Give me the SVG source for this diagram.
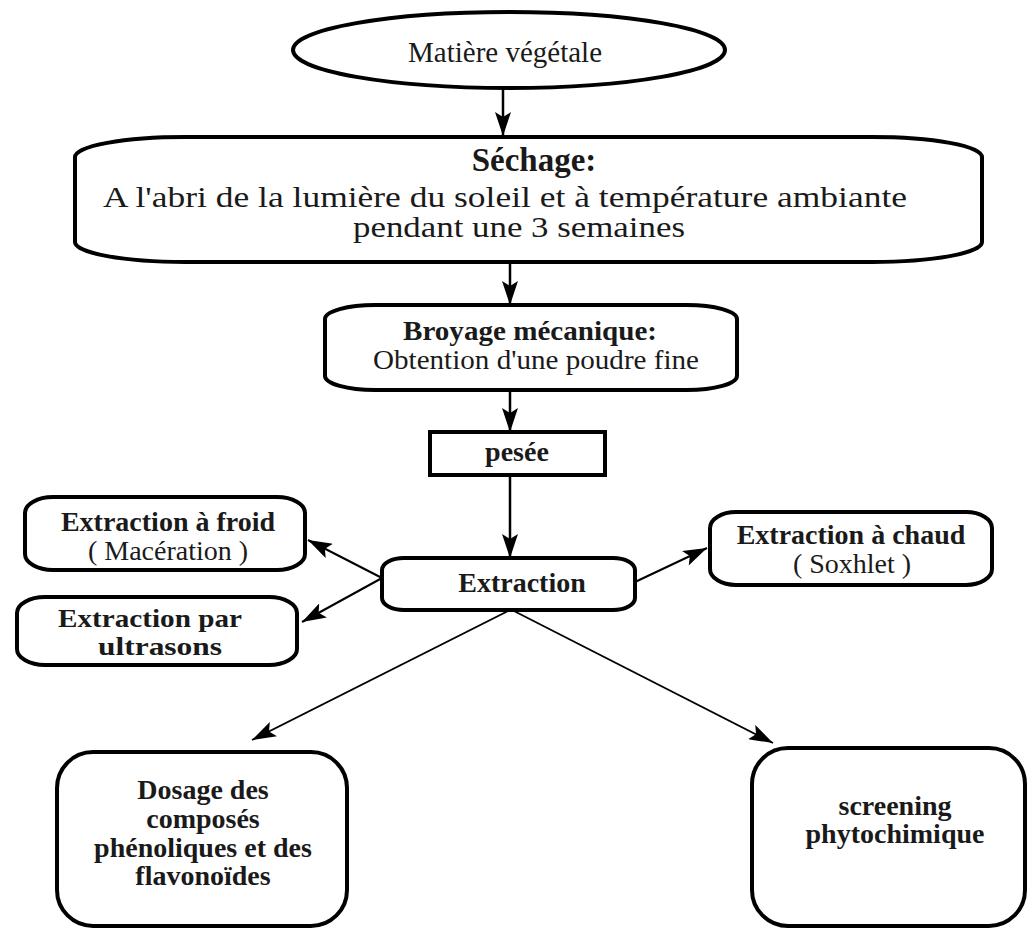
<svg xmlns="http://www.w3.org/2000/svg" width="1030" height="929" viewBox="0 0 1030 929">
<style>
.box{fill:#fff;stroke:#000;stroke-width:4}
.t{font-family:"Liberation Serif","Times New Roman",serif;fill:#1a1a1a;text-anchor:middle}
.b{font-weight:bold}
.c{stroke:#000;fill:none}
</style>
<defs>
<marker id="ah" markerUnits="userSpaceOnUse" markerWidth="26" markerHeight="16" refX="24" refY="8" orient="auto">
<path d="M0,0 L24,8 L0,16 L5,8 Z" fill="#000"/>
</marker>
</defs>
<rect width="1030" height="929" fill="#fff"/>
<g id="connectors">
<line class="c" x1="503" y1="88" x2="503" y2="136" stroke-width="2.5" marker-end="url(#ah)"/>
<line class="c" x1="510" y1="262" x2="510" y2="305" stroke-width="2.5" marker-end="url(#ah)"/>
<line class="c" x1="510" y1="390" x2="510" y2="432" stroke-width="2.5" marker-end="url(#ah)"/>
<line class="c" x1="510" y1="475" x2="510" y2="558" stroke-width="2.5" marker-end="url(#ah)"/>
<line class="c" x1="382" y1="578" x2="308" y2="540" stroke-width="2" marker-end="url(#ah)"/>
<line class="c" x1="382" y1="578" x2="302" y2="622" stroke-width="2" marker-end="url(#ah)"/>
<line class="c" x1="635" y1="582" x2="707" y2="548" stroke-width="2" marker-end="url(#ah)"/>
<line class="c" x1="510" y1="610" x2="252" y2="740" stroke-width="1.8" marker-end="url(#ah)"/>
<line class="c" x1="512" y1="610" x2="773" y2="743" stroke-width="1.8" marker-end="url(#ah)"/>
</g>
<g id="matiere">
<ellipse class="box" cx="509" cy="50" rx="216" ry="38"/>
<text class="t" x="505" y="62" font-size="29">Matière végétale</text>
</g>
<g id="sechage">
<rect class="box" x="75" y="137" width="907" height="125" rx="110" ry="20"/>
<text class="t b" x="534" y="171" font-size="33">Séchage:</text>
<text class="t" x="505" y="207" font-size="29" textLength="804" lengthAdjust="spacingAndGlyphs">A l'abri de la lumière du soleil et à température ambiante</text>
<text class="t" x="519" y="237" font-size="29" textLength="332" lengthAdjust="spacingAndGlyphs">pendant une 3 semaines</text>
</g>
<g id="broyage">
<rect class="box" x="325" y="305" width="412" height="85" rx="50" ry="14"/>
<text class="t b" x="530" y="340" font-size="27" textLength="254" lengthAdjust="spacingAndGlyphs">Broyage mécanique:</text>
<text class="t" x="536" y="369" font-size="27" textLength="326" lengthAdjust="spacingAndGlyphs">Obtention d'une poudre fine</text>
</g>
<g id="pesee">
<rect class="box" x="430" y="432" width="175" height="43"/>
<text class="t b" x="517" y="461" font-size="28">pesée</text>
</g>
<g id="extraction">
<rect class="box" x="382" y="558" width="253" height="52" rx="22" ry="12"/>
<text class="t b" x="522" y="592" font-size="28">Extraction</text>
</g>
<g id="froid">
<rect class="box" x="25" y="497" width="280" height="73" rx="28" ry="16"/>
<text class="t b" x="168" y="531" font-size="28">Extraction à froid</text>
<text class="t" x="168" y="560" font-size="28">( Macération )</text>
</g>
<g id="ultrasons">
<rect class="box" x="17" y="597" width="280" height="68" rx="28" ry="16"/>
<text class="t b" x="150" y="627" font-size="26" textLength="184" lengthAdjust="spacingAndGlyphs">Extraction par</text>
<text class="t b" x="160" y="655" font-size="26" textLength="124" lengthAdjust="spacingAndGlyphs">ultrasons</text>
</g>
<g id="chaud">
<rect class="box" x="710" y="512" width="282" height="73" rx="26" ry="16"/>
<text class="t b" x="851" y="544" font-size="28">Extraction à chaud</text>
<text class="t" x="852" y="573" font-size="28">( Soxhlet )</text>
</g>
<g id="dosage">
<rect class="box" x="57" y="752" width="290" height="174" rx="36" ry="36"/>
<text class="t b" x="203" y="799" font-size="28">Dosage des</text>
<text class="t b" x="203" y="828" font-size="28">composés</text>
<text class="t b" x="203" y="857" font-size="28">phénoliques et des</text>
<text class="t b" x="203" y="885" font-size="28">flavonoïdes</text>
</g>
<g id="screening">
<rect class="box" x="752" y="748" width="273" height="178" rx="36" ry="36"/>
<text class="t b" x="895" y="815" font-size="28">screening</text>
<text class="t b" x="895" y="843" font-size="28">phytochimique</text>
</g>
</svg>
